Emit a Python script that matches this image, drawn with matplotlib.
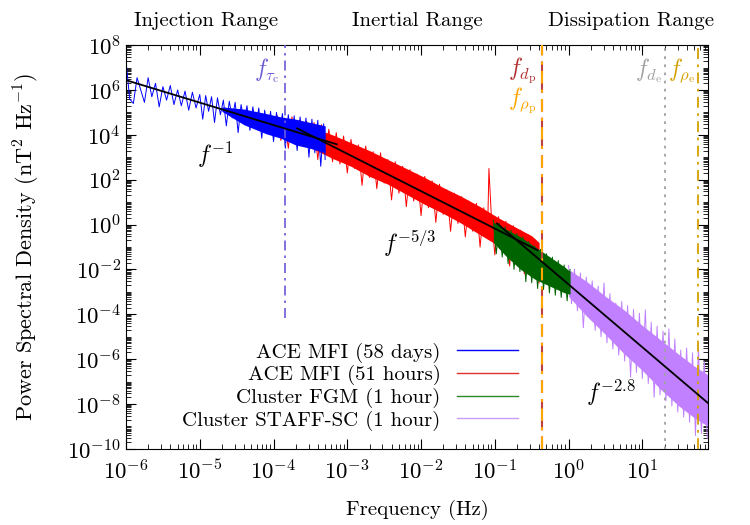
import numpy as np
import matplotlib
matplotlib.use("Agg")
import matplotlib.pyplot as plt
from matplotlib.ticker import LogLocator, NullFormatter

plt.rcParams['font.family'] = 'serif'
plt.rcParams['font.serif'] = ['cmr10']
plt.rcParams['mathtext.fontset'] = 'cm'
plt.rcParams['axes.formatter.use_mathtext'] = True
plt.rcParams['axes.unicode_minus'] = False

# 1. Data (stored as log10 values)
# ACE MFI (58 days) - spiky trace
ace58_logf = [-6.00, -5.95, -5.90, -5.85, -5.80, -5.75, -5.70, -5.65, -5.60, -5.55,
              -5.50, -5.45, -5.40, -5.35, -5.30, -5.25, -5.20, -5.15, -5.10, -5.05,
              -5.00, -4.96, -4.92, -4.88, -4.84, -4.80, -4.76, -4.72, -4.68, -4.64,
              -4.60, -4.56, -4.52, -4.48, -4.44, -4.40, -4.36, -4.32, -4.28, -4.24,
              -4.20, -4.16, -4.12, -4.08, -4.04, -4.00, -3.96, -3.92, -3.88, -3.84,
              -3.80, -3.76, -3.72, -3.68, -3.64, -3.60, -3.56, -3.52, -3.48, -3.44,
              -3.40, -3.36, -3.32, -3.30]
ace58_logpsd = [7.30, 5.60, 5.40, 6.55, 6.00, 5.45, 6.55, 5.70, 6.30, 5.25,
                6.15, 5.55, 6.20, 5.35, 6.00, 5.30, 5.95, 5.10, 5.90, 5.20,
                5.80, 4.70, 5.75, 5.05, 5.70, 4.55, 5.65, 4.90, 5.55, 4.40,
                5.50, 4.75, 5.45, 4.10, 5.35, 4.60, 5.30, 4.20, 5.25, 4.35,
                5.20, 3.85, 5.10, 4.05, 5.05, 3.70, 5.00, 3.95, 4.95, 3.40,
                4.90, 3.70, 4.85, 3.30, 4.80, 3.55, 4.75, 3.00, 4.70, 3.20,
                4.65, 2.60, 4.50, 2.90]
# ACE MFI (58 days) - dense core of the band
ace58_core_logf = [-4.70, -4.40, -4.10, -3.90, -3.70, -3.50, -3.30]
ace58_core_top = [5.25, 5.15, 4.95, 4.80, 4.70, 4.55, 4.40]
ace58_core_bot = [5.05, 4.45, 4.05, 3.85, 3.55, 3.40, 3.20]

# ACE MFI (51 hours)
ace51_logf = [-3.95, -3.90, -3.85, -3.80, -3.75, -3.70, -3.65, -3.60, -3.55, -3.50,
              -3.45, -3.40, -3.35, -3.30, -3.25, -3.20, -3.15, -3.10, -3.05, -3.00,
              -2.95, -2.90, -2.85, -2.80, -2.75, -2.70, -2.65, -2.60, -2.55, -2.50,
              -2.45, -2.40, -2.35, -2.30, -2.25, -2.20, -2.15, -2.10, -2.05, -2.00,
              -1.95, -1.90, -1.85, -1.80, -1.75, -1.70, -1.65, -1.60, -1.55, -1.50,
              -1.45, -1.40, -1.35, -1.30, -1.25, -1.20, -1.15, -1.10, -1.08, -1.05,
              -1.00, -0.95, -0.90, -0.85, -0.80, -0.75, -0.70, -0.65, -0.60, -0.55,
              -0.50, -0.45, -0.40]
ace51_logpsd = [4.85, 3.75, 4.75, 3.40, 4.80, 3.75, 4.65, 3.50, 4.60, 3.40,
                4.55, 2.90, 4.45, 3.15, 4.25, 2.80, 4.10, 2.70, 3.95, 2.30,
                3.80, 2.50, 3.55, 1.75, 3.50, 2.10, 3.25, 1.60, 3.20, 1.85,
                2.90, 1.10, 2.80, 1.40, 2.60, 0.80, 2.45, 1.05, 2.25, 0.40,
                2.15, 0.75, 1.95, 0.10, 1.80, 0.45, 1.55, -0.30, 1.40, 0.05,
                1.25, -0.55, 1.05, -0.30, 0.95, -1.00, 0.75, -0.60, 2.50, 0.55,
                -1.35, 0.35, -1.00, 0.15, -1.85, -0.05, -1.45, -0.25, -2.20, -0.45,
                -1.90, -0.70, -2.60]
ace51_core_logf = [-3.95, -3.70, -3.45, -3.20, -2.95, -2.70, -2.45, -2.20,
                   -1.95, -1.70, -1.45, -1.20, -0.95, -0.70, -0.50, -0.40]
ace51_core_top = [4.55, 4.45, 4.30, 4.00, 3.65, 3.30, 2.90, 2.50,
                  2.10, 1.65, 1.25, 0.80, 0.30, -0.15, -0.50, -0.80]
ace51_core_bot = [3.95, 3.70, 3.35, 2.95, 2.60, 2.15, 1.80, 1.35,
                  0.90, 0.50, 0.05, -0.45, -0.95, -1.45, -1.90, -2.20]

# Cluster FGM (1 hour)
fgm_logf = [-1.02, -0.98, -0.94, -0.90, -0.86, -0.82, -0.78, -0.74, -0.70, -0.66,
            -0.62, -0.58, -0.54, -0.50, -0.46, -0.42, -0.38, -0.34, -0.30, -0.26,
            -0.22, -0.18, -0.14, -0.10, -0.06, -0.02, 0.02]
fgm_logpsd = [0.20, -1.30, 0.05, -1.45, -0.10, -1.75, -0.25, -2.00, -0.40, -2.10,
              -0.55, -2.55, -0.75, -2.60, -0.95, -2.85, -1.10, -2.90, -1.30, -3.05,
              -1.45, -3.15, -1.60, -3.25, -1.80, -3.40, -2.00]
fgm_core_logf = [-1.02, -0.85, -0.65, -0.45, -0.25, -0.05, 0.02]
fgm_core_top = [0.10, -0.20, -0.55, -1.00, -1.45, -1.90, -2.10]
fgm_core_bot = [-0.80, -1.40, -2.00, -2.45, -2.75, -3.05, -3.10]

# Cluster STAFF-SC (1 hour)
staff_logf = [0.00, 0.04, 0.08, 0.12, 0.16, 0.20, 0.24, 0.28, 0.32, 0.36,
              0.40, 0.44, 0.48, 0.52, 0.56, 0.60, 0.64, 0.68, 0.72, 0.76,
              0.80, 0.84, 0.88, 0.92, 0.96, 1.00, 1.04, 1.08, 1.12, 1.16,
              1.20, 1.24, 1.28, 1.32, 1.36, 1.40, 1.44, 1.48, 1.52, 1.56,
              1.60, 1.64, 1.68, 1.72, 1.76, 1.80, 1.84, 1.88]
staff_logpsd = [-1.82, -3.53, -1.99, -3.85, -2.16, -4.60, -2.34, -4.10, -2.51, -4.72,
                -2.74, -5.00, -2.60, -5.27, -3.08, -5.55, -3.50, -5.82, -3.43, -6.09,
                -3.61, -6.80, -3.78, -6.59, -3.95, -6.87, -3.80, -7.09, -4.35, -7.70,
                -4.53, -7.59, -4.75, -7.86, -4.65, -8.09, -5.10, -8.36, -5.60, -8.58,
                -5.50, -8.81, -5.72, -9.40, -5.50, -9.31, -6.12, -9.53]
staff_core_logf = [0.00, 0.25, 0.50, 0.75, 1.00, 1.25, 1.50, 1.70, 1.89]
staff_core_top = [-2.00, -2.55, -3.20, -3.80, -4.50, -5.15, -5.80, -6.30, -6.70]
staff_core_bot = [-3.20, -4.10, -4.90, -5.75, -6.50, -7.35, -8.10, -8.60, -9.00]

# power-law guide lines (end points)
fit1_f = [1e-6, 7.2e-4]
fit1_psd = [2.75e6, 3.8e3]
fit2_f = [2.09e-4, 0.38]
fit2_psd = [1.95e4, 7.2e-2]
fit3_f = [0.107, 77.6]
fit3_psd = [1.12, 1.1e-8]

# characteristic frequencies (Hz)
f_tau_c = 1.44e-4
f_d_p = 0.437
f_rho_p = 0.43
f_d_e = 20.0
f_rho_e = 56.0


def draw_series(ax, logf, logpsd, core_f, core_top, core_bot, color, z):
    ax.fill_between(10**np.array(core_f), 10**np.array(core_bot), 10**np.array(core_top),
                    color=color, lw=0, zorder=z)
    ax.plot(10**np.array(logf), 10**np.array(logpsd), color=color, lw=0.7, zorder=z)


# 2. Plotting
fig = plt.figure(figsize=(7.5, 5.25), dpi=100)
ax = fig.add_axes([0.168, 0.145, 0.776, 0.769])

draw_series(ax, ace51_logf, ace51_logpsd, ace51_core_logf, ace51_core_top, ace51_core_bot, '#ff0000', 2.0)
draw_series(ax, ace58_logf, ace58_logpsd, ace58_core_logf, ace58_core_top, ace58_core_bot, '#0000ff', 2.2)
draw_series(ax, staff_logf, staff_logpsd, staff_core_logf, staff_core_top, staff_core_bot, '#c080ff', 2.3)
draw_series(ax, fgm_logf, fgm_logpsd, fgm_core_logf, fgm_core_top, fgm_core_bot, '#006400', 2.4)

# legend handles
h1, = ax.plot([], [], color='#0000ff', lw=1.0, label='ACE MFI (58 days)')
h2, = ax.plot([], [], color='#e03030', lw=1.0, label='ACE MFI (51 hours)')
h3, = ax.plot([], [], color='#2a8a2a', lw=1.0, label='Cluster FGM (1 hour)')
h4, = ax.plot([], [], color='#c8a0f8', lw=1.0, label='Cluster STAFF-SC (1 hour)')

ax.plot(fit1_f, fit1_psd, color='black', lw=1.3, zorder=5)
ax.plot(fit2_f, fit2_psd, color='black', lw=1.3, zorder=5)
ax.plot(fit3_f, fit3_psd, color='black', lw=1.3, zorder=5)

ax.axvline(f_tau_c, ymin=0.325, color='#6a5ad8', lw=1.2, ls=(0, (6, 3, 1.5, 3)), zorder=4)
ax.axvline(f_d_p, color='#c04040', lw=1.5, ls=(0, (6, 3)), zorder=4)
ax.axvline(f_rho_p, color='#ffa500', lw=1.5, ls=(0, (6, 3, 1.5, 3)), zorder=4)
ax.axvline(f_d_e, color='#a0a0a0', lw=1.3, ls=(0, (1.5, 3)), zorder=4)
ax.axvline(f_rho_e, color='#d4a000', lw=1.3, ls=(0, (6, 3, 1.5, 3)), zorder=4)

fs = 15
fs_f = 17
lab_y = 10**6.85
ax.annotate(r'$f_{\tau_\mathrm{c}}$', xy=(f_tau_c, lab_y), xytext=(-4, 0), textcoords='offset points',
            ha='right', va='center', color='#6a5ad8', fontsize=fs_f)
ax.annotate(r'$f_{d_\mathrm{p}}$', xy=(f_d_p, lab_y), xytext=(-4, 0), textcoords='offset points',
            ha='right', va='center', color='#b03030', fontsize=fs_f)
ax.annotate(r'$f_{\rho_\mathrm{p}}$', xy=(f_rho_p, 10**5.5), xytext=(-4, 0), textcoords='offset points',
            ha='right', va='center', color='#ffa500', fontsize=fs_f)
ax.annotate(r'$f_{d_\mathrm{e}}$', xy=(f_d_e, lab_y), xytext=(-2, 0), textcoords='offset points',
            ha='right', va='center', color='#a0a0a0', fontsize=fs_f)
ax.annotate(r'$f_{\rho_\mathrm{e}}$', xy=(f_rho_e, lab_y), xytext=(-2, 0), textcoords='offset points',
            ha='right', va='center', color='#d4a000', fontsize=fs_f)

ax.text(10**-4.79, 10**3.1, r'$f^{-1}$', fontsize=fs_f, ha='center', va='center')
ax.text(10**-2.15, 10**-0.84, r'$f^{-5/3}$', fontsize=fs_f, ha='center', va='center')
ax.text(10**0.57, 10**-7.5, r'$f^{-2.8}$', fontsize=fs_f, ha='center', va='center')

ax.set_xscale('log')
ax.set_yscale('log')
ax.set_xlim(1e-6, 77.6)
ax.set_ylim(1e-10, 1e8)
ax.set_yticks([1e-10, 1e-8, 1e-6, 1e-4, 1e-2, 1e0, 1e2, 1e4, 1e6, 1e8])
ax.set_xticks([1e-6, 1e-5, 1e-4, 1e-3, 1e-2, 1e-1, 1e0, 1e1])
ax.xaxis.set_minor_locator(LogLocator(base=10, subs=np.arange(2, 10), numticks=100))
ax.yaxis.set_minor_locator(LogLocator(base=10, subs=np.arange(1, 10), numticks=100))
ax.xaxis.set_minor_formatter(NullFormatter())
ax.yaxis.set_minor_formatter(NullFormatter())
ax.tick_params(which='both', direction='in', top=True, right=True, labelsize=16.5)
ax.tick_params(which='major', length=7, width=0.8)
ax.tick_params(which='minor', length=3.5, width=0.6)
ax.tick_params(axis='x', which='major', pad=7)

ax.set_xlabel('Frequency (Hz)', fontsize=fs, labelpad=12)
ax.set_ylabel(r'Power Spectral Density (nT$^2$ Hz$^{-1}$)', fontsize=16, labelpad=18)

leg = ax.legend(handles=[h1, h2, h3, h4], loc='lower right', bbox_to_anchor=(0.68, 0.035),
                frameon=True, fancybox=False, edgecolor='none', facecolor='white', framealpha=1,
                markerfirst=False, handlelength=2.9, handletextpad=0.8, labelspacing=0.12,
                borderpad=0.2, borderaxespad=0, fontsize=fs)
leg.set_zorder(10)

fig.text(206 / 750, 1 - 21 / 525, 'Injection Range', ha='center', va='center', fontsize=fs)
fig.text(417 / 750, 1 - 21 / 525, 'Inertial Range', ha='center', va='center', fontsize=fs)
fig.text(631 / 750, 1 - 21 / 525, 'Dissipation Range', ha='center', va='center', fontsize=fs)

plt.savefig('out.png', dpi=100)
